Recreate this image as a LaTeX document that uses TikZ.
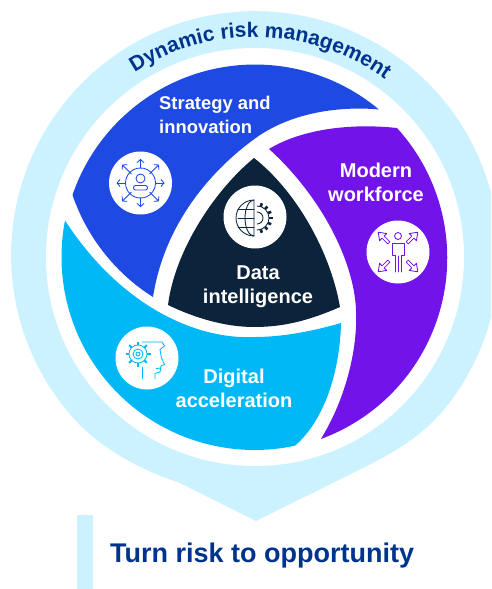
\documentclass[tikz,border=0pt]{standalone}
\usepackage{fontspec}
\setmainfont{Liberation Sans}
\usetikzlibrary{positioning, calc, arrows.meta, decorations.text}
\definecolor{palecyan}{HTML}{CCF2FF}
\definecolor{segblue}{HTML}{1E49E2}
\definecolor{segpurple}{HTML}{7213EA}
\definecolor{segcyan}{HTML}{00B8F5}
\definecolor{segdark}{HTML}{0C233C}
\definecolor{titleblue}{HTML}{00338D}
\tikzset{
	seglabel/.style = {text = white, inner sep = 0pt, font = \fontsize{20}{24}\selectfont\bfseries},
	iconcircle/.style = {circle, fill = white, minimum size = 63pt, inner sep = 0pt},
	iconline/.style = {line width = .85pt, line join = round, line cap = round}
}

\begin{document}
\begin{tikzpicture}[x = 1pt, y = -1pt]
	\useasboundingbox (0,0) rectangle (491,589);
	\clip (0,0) rectangle (491,589);

	% backdrop with its point, and the white disc
	\fill[palecyan] (442,412) arc[start angle = -40, end angle = 220, radius = 244pt]
		.. controls (95,445) and (135,468) .. (180,483) -- (256,521) -- (363,468)
		.. controls (395,452) and (420,437) .. cycle;
	\fill[white] (255,257) circle[radius = 209pt];

	% the four segments
	\fill[segblue] (72.5,195) arc[start angle = 161.1, end angle = 50.1, radius = 193pt]
		.. controls (340,106) and (290,112) .. (253,140)
		.. controls (215,168) and (165,220) .. (153,297)
		.. controls (118,275) and (88,240) .. cycle;
	\fill[segpurple] (269,149) .. controls (295,133) and (340,122) .. (397,128)
		arc[start angle = 42.3, end angle = -69.8, radius = 193pt]
		.. controls (345,400) and (358,350) .. (356,310)
		.. controls (354,260) and (320,195) .. cycle;
	\fill[segcyan] (65,220.5) arc[start angle = 169.1, end angle = 282.1, radius = 193pt]
		.. controls (325,420) and (340,370) .. (341,323)
		.. controls (310,332) and (280,337) .. (255,337)
		.. controls (195,340) and (120,305) .. cycle;
	\fill[segdark] (254,158) .. controls (295,190) and (330,250) .. (340,307)
		.. controls (310,320) and (285,327) .. (254,327)
		.. controls (225,327) and (195,318) .. (168,305)
		.. controls (175,250) and (215,190) .. cycle;

	% ring title
	\path[decorate, decoration = {text along path, text align = center,
		text = {|\fontsize{21}{21}\selectfont\bfseries\color{titleblue}|Dynamic risk management}}]
		(112.3,89) arc[start angle = 130, end angle = 47, radius = 222pt];

	% labels
	\node[seglabel, font = \fontsize{18.4}{23.5}\selectfont\bfseries, align = left, anchor = west] (strategy) at (159,115) {Strategy and\\innovation};
	\node[seglabel, align = center] (workforce) at (376,182) {Modern\\workforce};
	\node[seglabel, align = center] (acceleration) at (234,388) {Digital\\acceleration};
	\node[seglabel, align = center] (intelligence) at (258,287) {Data\\intelligence};

	% icon discs
	\node[iconcircle] (stratdisc) at (140.5,183) {};
	\node[iconcircle] (datadisc) at (255,217) {};
	\node[iconcircle] (workdisc) at (398,252) {};
	\node[iconcircle] (accdisc) at (147,358) {};

	% person in a ring of arrows
	\begin{scope}[shift = {(stratdisc.center)}, iconline, segblue, >={Straight Barb[length = 3pt, width = 7pt]}]
		\draw (0,0) circle[radius = 15pt];
		\foreach \ang in {0, 90, 180, 270}
			\draw[->] (\ang:15) -- (\ang:24);
		\foreach \ang in {45, 135, 225, 315}
			\draw[->] (\ang:13) -- (\ang:26);
		\draw (0,-4.5) circle[radius = 4.5pt];
		\draw[rounded corners = 2pt] (-7,7) -- (-7,2.5) -- (7,2.5) -- (7,7) -- cycle;
	\end{scope}

	% globe and gear
	\begin{scope}[shift = {(254,218)}, iconline, segdark]
		\draw (0,-18) arc[start angle = 90, end angle = 270, radius = 18pt] -- cycle;
		\draw (0,-18) arc[start angle = 90, end angle = 270, x radius = 9pt, y radius = 18pt];
		\foreach \yy in {-9, 0, 9}
			\draw (-16,\yy) -- (0,\yy);
		\draw (3,-12) arc[start angle = 90, end angle = -90, radius = 12pt];
		\draw (3,-6) arc[start angle = 90, end angle = -90, radius = 6pt];
		\foreach \ang in {-72, -48, -24, 0, 24, 48, 72}
			\draw[line width = 2.6pt, line cap = butt] ($(3,0)+(\ang:12)$) -- ($(3,0)+(\ang:15.5)$);
	\end{scope}

	% person with four outward arrows
	\begin{scope}[shift = {(workdisc.center)}, iconline, segpurple]
		\draw (0,-16) circle[radius = 3.5pt];
		\draw (-3,20) -- (-3,3) -- (-6,3) -- (-6,-9) -- (6,-9) -- (6,3) -- (3,3) -- (3,20);
		\draw (0,20) -- (0,4);
		\foreach \ang in {45, 135, 225, 315}
			\draw[rotate = \ang] (13,-1.5) -- (21,-1.5) -- (21,-5) -- (28,0) -- (21,5) -- (21,1.5) -- (13,1.5) -- cycle;
	\end{scope}

	% gear and head
	\begin{scope}[iconline, segcyan]
		\draw (138,354) circle[radius = 9pt];
		\draw (138,354) circle[radius = 5pt];
		\draw (138,354) circle[radius = 2pt];
		\foreach \ang in {0, 45, ..., 315}
			\draw[line width = 2pt, line cap = butt] ($(138,354)+(\ang:9)$) -- ($(138,354)+(\ang:12.5)$);
		\draw (142,342) -- (162,342) -- (164.5,346) -- (160,349.5) -- (161.5,358) -- (164.5,364.5)
			-- (161,366) -- (160,372) -- (155,373.5) -- (155,379);
		\draw (142.5,367) -- (142.5,379);
		\draw (156,368.5) -- (161,368);
	\end{scope}

	% bottom caption
	\fill[palecyan] (77,515) rectangle (93,589);
	\node[inner sep = 0pt, anchor = base west, text = titleblue, font = \fontsize{27}{27}\selectfont\bfseries] (caption) at (110,562) {Turn risk to opportunity};
\end{tikzpicture}
\end{document}
